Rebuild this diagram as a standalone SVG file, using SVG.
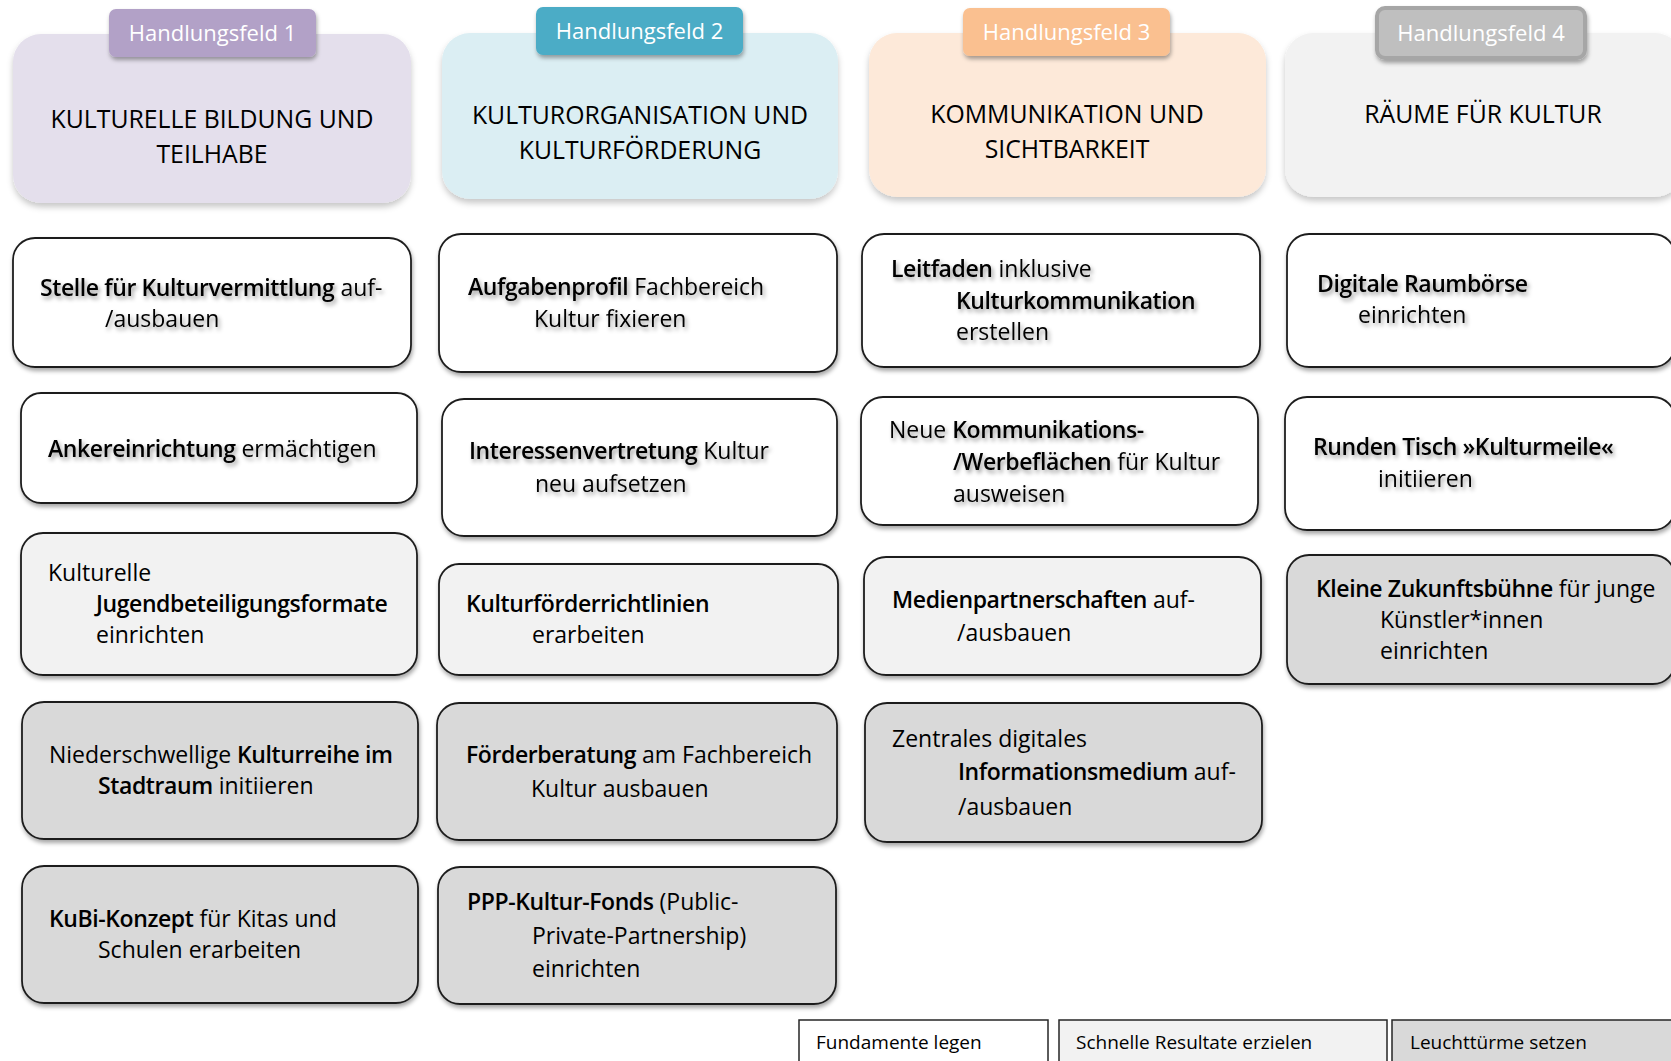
<svg xmlns="http://www.w3.org/2000/svg" width="1671" height="1061" viewBox="0 0 1671 1061">
<defs>
<filter id="sh" x="-10%" y="-10%" width="120%" height="130%"><feDropShadow dx="1" dy="3" stdDeviation="2" flood-color="#000" flood-opacity="0.35"/></filter>
<filter id="hsh" x="-10%" y="-10%" width="120%" height="130%"><feDropShadow dx="0" dy="4" stdDeviation="3" flood-color="#000" flood-opacity="0.22"/></filter>
<filter id="ts" x="-5%" y="-30%" width="115%" height="180%"><feDropShadow dx="2" dy="3" stdDeviation="2" flood-color="#000" flood-opacity="0.4"/></filter>
</defs>
<style>
text{font-family:"Open Sans","Noto Sans",sans-serif;fill:#000}
.hdr{stroke:none;filter:url(#hsh)}
.tab{filter:url(#sh)}
.tabt{font-size:22px;fill:#fff;text-anchor:middle}
.ht{font-size:24.8px;text-anchor:middle}
.box{stroke:#1f1f1f;stroke-width:1.8;filter:url(#sh)}
.w{fill:#fff}.l{fill:#f2f2f2}.d{fill:#d9d9d9}
.bt{font-size:23px}
.tsh{filter:url(#ts)}
.b{font-weight:600;letter-spacing:-0.4px}
.leg{stroke:#262626;stroke-width:1.5}
.lt{font-size:19px}
</style>

<g id="hf1">
<rect class="hdr" x="13" y="34" width="398" height="169" rx="28" fill="#e4dfec"/>
<rect class="tab" x="109" y="9" width="207" height="48" rx="7" fill="#b2a1c7"/>
<text class="tabt" x="212.5" y="41">Handlungsfeld 1</text>
<text class="ht" x="212" y="128">KULTURELLE BILDUNG UND</text>
<text class="ht" x="212" y="163">TEILHABE</text>
</g>
<g id="hf2">
<rect class="hdr" x="442" y="33" width="396" height="166" rx="28" fill="#dbeef3"/>
<rect class="tab" x="536" y="7" width="207" height="48" rx="7" fill="#4bacc6"/>
<text class="tabt" x="639.5" y="39">Handlungsfeld 2</text>
<text class="ht" x="640" y="124">KULTURORGANISATION UND</text>
<text class="ht" x="640" y="159">KULTURFÖRDERUNG</text>
</g>
<g id="hf3">
<rect class="hdr" x="869" y="33" width="397" height="164" rx="28" fill="#fde9d9"/>
<rect class="tab" x="963" y="8" width="207" height="48" rx="7" fill="#fac090"/>
<text class="tabt" x="1066.5" y="40">Handlungsfeld 3</text>
<text class="ht" x="1067" y="123">KOMMUNIKATION UND</text>
<text class="ht" x="1067" y="158">SICHTBARKEIT</text>
</g>
<g id="hf4">
<rect class="hdr" x="1285" y="33" width="398" height="164" rx="28" fill="#f2f2f2"/>
<rect class="tab" x="1377" y="8" width="208" height="50" rx="8" fill="#bfbfbf" stroke="#a6a6a6" stroke-width="4"/>
<text class="tabt" x="1481" y="41">Handlungsfeld 4</text>
<text class="ht" x="1483" y="123">RÄUME FÜR KULTUR</text>
</g>

<g id="m1-1">
<rect class="box w" x="13" y="238" width="398" height="129" rx="22"/>
<text class="bt tsh" x="40" y="296"><tspan class="b">Stelle für Kulturvermittlung</tspan> auf-</text>
<text class="bt tsh" x="105" y="327">/ausbauen</text>
</g>
<g id="m1-2">
<rect class="box w" x="21" y="393" width="396" height="110" rx="20"/>
<text class="bt tsh" x="48" y="457"><tspan class="b">Ankereinrichtung</tspan> ermächtigen</text>
</g>
<g id="m1-3">
<rect class="box l" x="21" y="533" width="396" height="142" rx="22"/>
<text class="bt" x="48" y="581">Kulturelle</text>
<text class="bt b" x="96" y="612">Jugendbeteiligungsformate</text>
<text class="bt" x="96" y="643">einrichten</text>
</g>
<g id="m1-4">
<rect class="box d" x="22" y="702" width="396" height="137" rx="22"/>
<text class="bt" x="49" y="763">Niederschwellige <tspan class="b">Kulturreihe im</tspan></text>
<text class="bt" x="98" y="794"><tspan class="b">Stadtraum</tspan> initiieren</text>
</g>
<g id="m1-5">
<rect class="box d" x="22" y="866" width="396" height="137" rx="22"/>
<text class="bt" x="49" y="927"><tspan class="b">KuBi-Konzept</tspan> für Kitas und</text>
<text class="bt" x="98" y="958">Schulen erarbeiten</text>
</g>

<g id="m2-1">
<rect class="box w" x="439" y="234" width="398" height="138" rx="22"/>
<text class="bt tsh" x="468" y="295"><tspan class="b">Aufgabenprofil</tspan> Fachbereich</text>
<text class="bt tsh" x="534" y="327">Kultur fixieren</text>
</g>
<g id="m2-2">
<rect class="box w" x="442" y="399" width="395" height="137" rx="22"/>
<text class="bt tsh" x="469" y="459"><tspan class="b">Interessenvertretung</tspan> Kultur</text>
<text class="bt tsh" x="535" y="492">neu aufsetzen</text>
</g>
<g id="m2-3">
<rect class="box l" x="439" y="564" width="399" height="111" rx="20"/>
<text class="bt b" x="466" y="612">Kulturförderrichtlinien</text>
<text class="bt" x="532" y="643">erarbeiten</text>
</g>
<g id="m2-4">
<rect class="box d" x="437" y="703" width="400" height="137" rx="22"/>
<text class="bt" x="466" y="763"><tspan class="b">Förderberatung</tspan> am Fachbereich</text>
<text class="bt" x="531" y="797">Kultur ausbauen</text>
</g>
<g id="m2-5">
<rect class="box d" x="438" y="867" width="398" height="137" rx="22"/>
<text class="bt" x="467" y="910"><tspan class="b">PPP-Kultur-Fonds</tspan> (Public-</text>
<text class="bt" x="532" y="944">Private-Partnership)</text>
<text class="bt" x="532" y="977">einrichten</text>
</g>

<g id="m3-1">
<rect class="box w" x="862" y="234" width="398" height="133" rx="22"/>
<text class="bt tsh" x="891" y="277"><tspan class="b">Leitfaden</tspan> inklusive</text>
<text class="bt tsh b" x="956" y="309">Kulturkommunikation</text>
<text class="bt tsh" x="956" y="340">erstellen</text>
</g>
<g id="m3-2">
<rect class="box w" x="861" y="397" width="397" height="128" rx="22"/>
<text class="bt tsh" x="889" y="438">Neue <tspan class="b">Kommunikations-</tspan></text>
<text class="bt tsh" x="953" y="470"><tspan class="b">/Werbeflächen</tspan> für Kultur</text>
<text class="bt tsh" x="953" y="502">ausweisen</text>
</g>
<g id="m3-3">
<rect class="box l" x="864" y="557" width="397" height="118" rx="22"/>
<text class="bt" x="892" y="608"><tspan class="b">Medienpartnerschaften</tspan> auf-</text>
<text class="bt" x="957" y="641">/ausbauen</text>
</g>
<g id="m3-4">
<rect class="box d" x="865" y="703" width="397" height="139" rx="22"/>
<text class="bt" x="892" y="747">Zentrales digitales</text>
<text class="bt" x="958" y="780"><tspan class="b">Informationsmedium</tspan> auf-</text>
<text class="bt" x="958" y="815">/ausbauen</text>
</g>

<g id="m4-1">
<rect class="box w" x="1287" y="234" width="388" height="133" rx="22"/>
<text class="bt tsh b" x="1317" y="292">Digitale Raumbörse</text>
<text class="bt tsh" x="1358" y="323">einrichten</text>
</g>
<g id="m4-2">
<rect class="box w" x="1285" y="397" width="390" height="133" rx="22"/>
<text class="bt tsh b" x="1313" y="455">Runden Tisch »Kulturmeile«</text>
<text class="bt tsh" x="1378" y="487">initiieren</text>
</g>
<g id="m4-3">
<rect class="box d" x="1287" y="555" width="388" height="129" rx="22"/>
<text class="bt" x="1316" y="597"><tspan class="b">Kleine Zukunftsbühne</tspan> für junge</text>
<text class="bt" x="1380" y="628">Künstler*innen</text>
<text class="bt" x="1380" y="659">einrichten</text>
</g>

<g id="legend">
<rect class="leg w" x="799" y="1020" width="249" height="50"/>
<text class="lt" x="816" y="1049">Fundamente legen</text>
<rect class="leg l" x="1059" y="1020" width="328" height="50"/>
<text class="lt" x="1076" y="1049">Schnelle Resultate erzielen</text>
<rect class="leg d" x="1392" y="1020" width="285" height="50"/>
<text class="lt" x="1410" y="1049">Leuchttürme setzen</text>
</g>
<g id="connectors"></g>
</svg>
